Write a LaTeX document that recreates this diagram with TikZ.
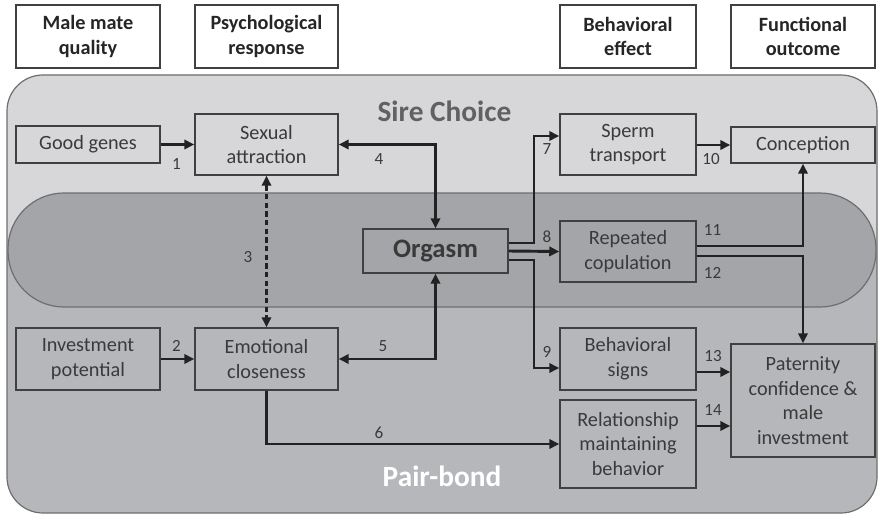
\documentclass[tikz,border=0pt]{standalone}
\usepackage{fontspec}
\setmainfont{Carlito}
\usetikzlibrary{arrows.meta,calc}
\definecolor{lightbg}{HTML}{D7D7D9}
\definecolor{lowbg}{HTML}{B6B7BA}
\definecolor{bandbg}{HTML}{A4A5A8}
\definecolor{outl}{HTML}{6E6E6E}
\definecolor{boxline}{HTML}{404040}
\definecolor{txt}{HTML}{3A3A3A}
\definecolor{arr}{HTML}{222222}
\tikzset{
  box/.style={draw=boxline, line width=1.1pt, text=txt, align=center, inner sep=0pt,
    font=\fontsize{15.2}{18.6}\selectfont},
  head/.style={box, fill=white, font=\fontsize{15.2}{18.6}\selectfont\bfseries, text=black!85},
  conn/.style={draw=arr, line width=2.2pt, -{Triangle[length=7.5pt,width=7pt]}},
  conn2/.style={draw=arr, line width=2.2pt, {Triangle[length=7.5pt,width=7pt]}-{Triangle[length=7.5pt,width=7pt]}},
  num/.style={text=txt, font=\fontsize{12.8}{13}\selectfont, inner sep=0pt},
  big/.style={font=\fontsize{22}{24}\selectfont\bfseries, inner sep=0pt}
}
\begin{document}
\begin{tikzpicture}[x=0.75pt,y=-0.75pt]
\useasboundingbox (0,0) rectangle (879,517);
% background regions
\fill[lowbg, rounded corners=27pt] (7,75) rectangle (877,513);
\begin{scope}
  \clip (0,0) rectangle (879,250);
  \fill[lightbg, rounded corners=27pt] (7,75) rectangle (877,513);
\end{scope}
\draw[outl, line width=0.9pt, rounded corners=27pt] (7,75) rectangle (877,513);
\draw[outl, fill=bandbg, line width=0.9pt, rounded corners=42pt] (8,193) rectangle (876,307);
\node[big, text=black!62] (sire) at (444.5,111) {Sire Choice};
\node[big, text=white] (pair) at (442,476) {Pair-bond};
% headers
\node[head, minimum width=108pt, minimum height=47.25pt] (h1) at (88,36.5) {Male mate\\quality};
\node[head, minimum width=107.25pt, minimum height=47.25pt] (h2) at (266.5,36.5) {Psychological\\response};
\node[head, minimum width=102pt, minimum height=47.25pt] (h3) at (628,36.5) {Behavioral\\effect};
\node[head, minimum width=108pt, minimum height=47.25pt] (h4) at (803,36.5) {Functional\\outcome};
% boxes
\node[box, minimum width=108pt, minimum height=27.75pt] (gg) at (88,144.5) {Good genes};
\node[box, minimum width=107.25pt, minimum height=45.75pt] (sa) at (266.5,144.5) {Sexual\\attraction};
\node[box, minimum width=102pt, minimum height=45.75pt] (st) at (628,144.5) {Sperm\\transport};
\node[box, minimum width=108pt, minimum height=27pt] (cn) at (803,145) {Conception};
\node[box, minimum width=108.75pt, minimum height=33pt, font=\fontsize{20}{22}\selectfont\bfseries] (og) at (435.5,251) {Orgasm};
\node[box, minimum width=102pt, minimum height=45.75pt] (rc) at (628,251.5) {Repeated\\copulation};
\node[box, minimum width=108pt, minimum height=46.5pt] (ip) at (88,359) {Investment\\potential};
\node[box, minimum width=107.25pt, minimum height=46.5pt] (ec) at (266.5,359) {Emotional\\closeness};
\node[box, minimum width=102pt, minimum height=46.5pt] (bs) at (628,359) {Behavioral\\signs};
\node[box, minimum width=108pt, minimum height=84.75pt] (pc) at (803,400.5) {Paternity\\confidence \&\\male\\investment};
\node[box, minimum width=102pt, minimum height=66pt] (rm) at (628,444) {Relationship\\maintaining\\behavior};
% connectors
\draw[conn] (gg.east) -- (sa.west);
\draw[conn] (ip.east) -- (ec.west);
\draw[draw=arr, line width=1.7pt, dash pattern=on 4pt off 2.5pt, {Triangle[length=7.5pt,width=7pt]}-{Triangle[length=7.5pt,width=7pt]}] (sa.south) -- (ec.north);
\draw[conn2] (sa.east) -| (og.north);
\draw[conn2] (ec.east) -| (og.south);
\draw[conn] (ec.south) |- (rm.west);
\draw[conn] (og.east |- 0,243) -| (534,190) |- (st.west |- 0,136);
\draw[conn] (og.east) -- (rc.west);
\draw[conn] (og.east |- 0,260) -| (534,300) |- (bs.west |- 0,368);
\draw[conn] (st.east |- 0,145) -- (cn.west);
\draw[conn] (rc.east |- 0,246) -| (cn.south);
\draw[conn] (rc.east |- 0,256) -| (pc.north);
\draw[conn] (bs.east |- 0,372) -- (pc.west |- 0,372);
\draw[conn] (rm.east |- 0,426) -- (pc.west |- 0,426);
% numbers
\node[num] (n1) at (176.5,164) {1};
\node[num] (n2) at (176.5,346) {2};
\node[num] (n3) at (248,257) {3};
\node[num] (n4) at (379,159) {4};
\node[num] (n5) at (383,346) {5};
\node[num] (n6) at (379,433) {6};
\node[num] (n7) at (547,149) {7};
\node[num] (n8) at (547,237) {8};
\node[num] (n9) at (547,352) {9};
\node[num] (n10) at (711,159) {10};
\node[num] (n11) at (712.5,230) {11};
\node[num] (n12) at (712.5,272.5) {12};
\node[num] (n13) at (713,356) {13};
\node[num] (n14) at (713,410) {14};
\end{tikzpicture}
\end{document}
